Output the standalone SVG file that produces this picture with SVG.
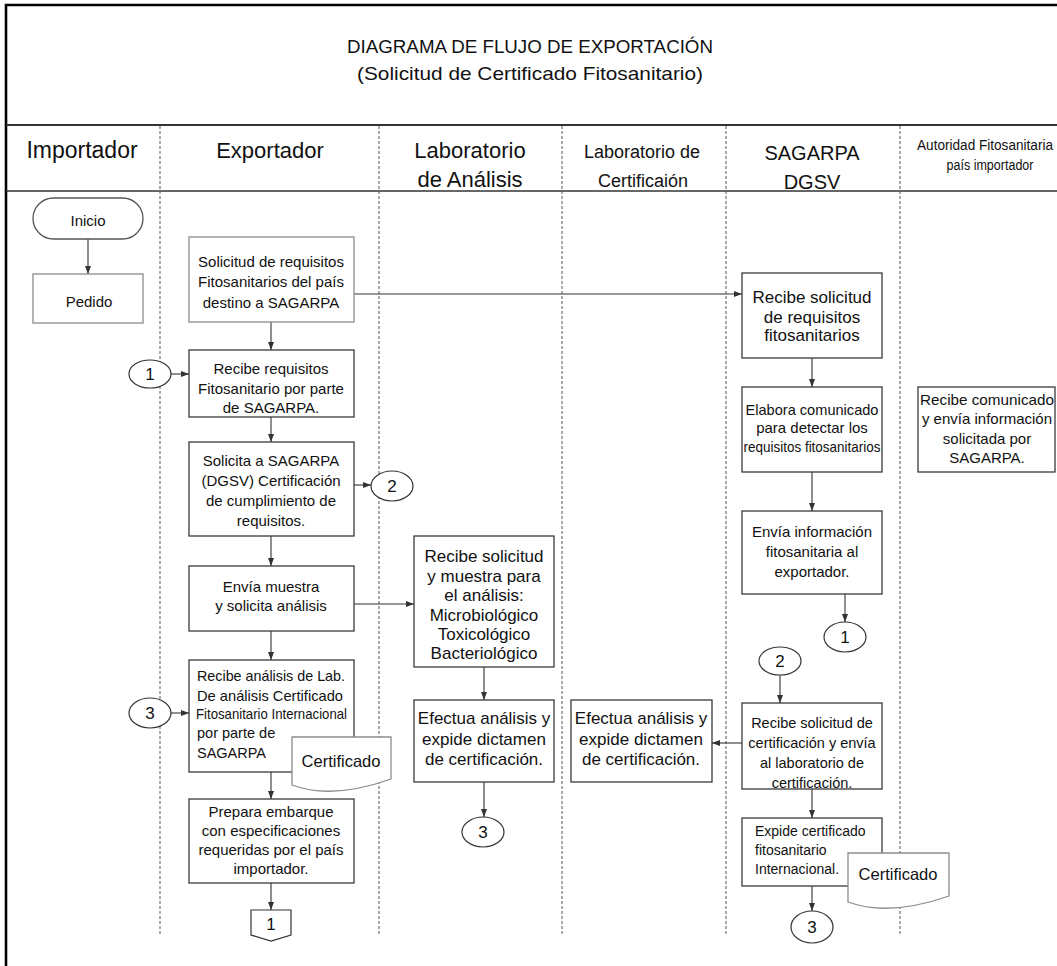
<svg xmlns="http://www.w3.org/2000/svg" width="1057" height="966" viewBox="0 0 1057 966">
<style>
text{font-family:"Liberation Sans",Arial,sans-serif;fill:#111;}
.t15{font-size:15px;text-anchor:middle;}
.t17{font-size:17px;text-anchor:middle;}
.t14{font-size:14px;text-anchor:middle;}
.hd{font-size:22px;text-anchor:middle;}
.box{fill:#fff;stroke:#3a3a3a;stroke-width:1.3;}
.gbox{fill:#fff;stroke:#8c8c8c;stroke-width:1.3;}
.lane{stroke:#555;stroke-width:1;stroke-dasharray:3 2;fill:none;}
.conn{stroke:#333;stroke-width:1.1;fill:none;marker-end:url(#arr);}
.circ{fill:#fff;stroke:#333;stroke-width:1.2;}
.num{font-size:17px;text-anchor:middle;}
</style>
<defs>
<marker id="arr" viewBox="0 0 8 6" refX="8" refY="3" markerWidth="8" markerHeight="6" markerUnits="userSpaceOnUse" orient="auto">
<path d="M0,0 L8,3 L0,6 z" fill="#333"/>
</marker>
</defs>
<rect x="0" y="0" width="1057" height="966" fill="#fff"/>
<g id="frame">
<path d="M6,966 V5 H1057" fill="none" stroke="#000" stroke-width="2.6"/>
<line x1="6" y1="125" x2="1057" y2="125" stroke="#333" stroke-width="2"/>
<line x1="6" y1="191" x2="1057" y2="191" stroke="#333" stroke-width="1.6"/>
<line class="lane" x1="160" y1="126" x2="160" y2="935"/>
<line class="lane" x1="379" y1="126" x2="379" y2="935"/>
<line class="lane" x1="562" y1="126" x2="562" y2="935"/>
<line class="lane" x1="726" y1="126" x2="726" y2="935"/>
<line class="lane" x1="900" y1="126" x2="900" y2="935"/>
</g>
<g id="title">
<text x="530" y="53" style="font-size:19px;text-anchor:middle" textLength="366" lengthAdjust="spacingAndGlyphs">DIAGRAMA DE FLUJO DE EXPORTACIÓN</text>
<text x="530" y="80" style="font-size:19px;text-anchor:middle" textLength="346" lengthAdjust="spacingAndGlyphs">(Solicitud de Certificado Fitosanitario)</text>
</g>
<g id="lane-headers">
<text class="hd" x="82" y="158" style="font-size:23px">Importador</text>
<text class="hd" x="270" y="158">Exportador</text>
<text class="hd" x="470" y="158">Laboratorio</text>
<text class="hd" x="470" y="187">de Análisis</text>
<text class="hd" x="642" y="158" style="font-size:18px">Laboratorio de</text>
<text class="hd" x="643" y="187" style="font-size:18px">Certificaión</text>
<text class="hd" x="812" y="160" style="font-size:20px">SAGARPA</text>
<text class="hd" x="812" y="189" style="font-size:20px">DGSV</text>
<text class="hd" x="985" y="150" style="font-size:14px" textLength="136" lengthAdjust="spacingAndGlyphs">Autoridad Fitosanitaria</text>
<text class="hd" x="990" y="170" style="font-size:14px" textLength="87" lengthAdjust="spacingAndGlyphs">país importador</text>
</g>
<g id="connectors">
<line class="conn" x1="88" y1="239" x2="88" y2="274"/>
<line class="conn" x1="271" y1="322" x2="271" y2="350"/>
<line class="conn" x1="354" y1="294" x2="742" y2="294"/>
<line class="conn" x1="171" y1="374" x2="189" y2="374"/>
<line class="conn" x1="271" y1="417" x2="271" y2="442"/>
<line class="conn" x1="354" y1="485" x2="371" y2="485"/>
<line class="conn" x1="271" y1="536" x2="271" y2="566"/>
<line class="conn" x1="354" y1="604" x2="414" y2="604"/>
<line class="conn" x1="271" y1="631" x2="271" y2="660"/>
<line class="conn" x1="171" y1="713" x2="189" y2="713"/>
<line class="conn" x1="271" y1="772" x2="271" y2="799"/>
<line class="conn" x1="271" y1="883" x2="271" y2="910"/>
<line class="conn" x1="484" y1="667" x2="484" y2="700"/>
<line class="conn" x1="484" y1="782" x2="484" y2="817"/>
<line class="conn" x1="812" y1="358" x2="812" y2="387"/>
<line class="conn" x1="812" y1="472" x2="812" y2="511"/>
<line class="conn" x1="845" y1="594" x2="845" y2="622"/>
<line class="conn" x1="780" y1="675" x2="780" y2="703"/>
<line class="conn" x1="742" y1="743" x2="712" y2="743"/>
<line class="conn" x1="812" y1="789" x2="812" y2="818"/>
<line class="conn" x1="812" y1="886" x2="812" y2="911"/>
</g>
<g id="inicio">
<rect class="box" x="33" y="198" width="110" height="41" rx="20.5" style="stroke:#555"/>
<text class="t15" x="88" y="226">Inicio</text>
</g>
<g id="pedido">
<rect class="gbox" x="33" y="274" width="110" height="49"/>
<text class="t15" x="89" y="307">Pedido</text>
</g>
<g id="solicitud-requisitos">
<rect class="gbox" x="189" y="237" width="165" height="85"/>
<text class="t15" x="271" y="267">Solicitud de requisitos</text>
<text class="t15" x="271" y="287">Fitosanitarios del país</text>
<text class="t15" x="271" y="308">destino a SAGARPA</text>
</g>
<g id="conector-1-izq">
<ellipse class="circ" cx="150" cy="374" rx="21" ry="14"/>
<text class="num" x="150" y="380">1</text>
</g>
<g id="recibe-requisitos">
<rect class="box" x="189" y="350" width="165" height="67"/>
<text class="t15" x="271" y="374">Recibe requisitos</text>
<text class="t15" x="271" y="394">Fitosanitario por parte</text>
<text class="t15" x="271" y="413">de SAGARPA.</text>
</g>
<g id="solicita-certificacion">
<rect class="box" x="189" y="442" width="165" height="94"/>
<text class="t15" x="271" y="466">Solicita a SAGARPA</text>
<text class="t15" x="271" y="486">(DGSV) Certificación</text>
<text class="t15" x="271" y="506">de cumplimiento de</text>
<text class="t15" x="271" y="526">requisitos.</text>
</g>
<g id="conector-2-izq">
<ellipse class="circ" cx="392" cy="486" rx="21" ry="15"/>
<text class="num" x="392" y="492">2</text>
</g>
<g id="envia-muestra">
<rect class="box" x="189" y="566" width="165" height="65"/>
<text class="t15" x="271" y="592">Envía muestra</text>
<text class="t15" x="271" y="611">y solicita análisis</text>
</g>
<g id="conector-3-izq">
<ellipse class="circ" cx="150" cy="713" rx="21" ry="15"/>
<text class="num" x="150" y="719">3</text>
</g>
<g id="recibe-analisis">
<rect class="box" x="189" y="660" width="165" height="112"/>
<text x="197" y="681" style="font-size:14.5px" textLength="148" lengthAdjust="spacingAndGlyphs">Recibe análisis de Lab.</text>
<text x="197" y="701" style="font-size:14.5px" textLength="146" lengthAdjust="spacingAndGlyphs">De análisis Certificado</text>
<text x="196" y="719" style="font-size:14.5px" textLength="151" lengthAdjust="spacingAndGlyphs">Fitosanitario Internacional</text>
<text x="197" y="738" style="font-size:14.5px">por parte de</text>
<text x="197" y="758" style="font-size:14.5px">SAGARPA</text>
</g>
<g id="certificado-izq">
<path class="gbox" d="M292,737 H391 V779 Q332,800 292,785 Z"/>
<text x="341" y="767" style="font-size:16.5px;text-anchor:middle">Certificado</text>
</g>
<g id="prepara-embarque">
<rect class="box" x="189" y="799" width="165" height="84"/>
<text class="t15" x="271" y="817">Prepara embarque</text>
<text class="t15" x="271" y="836">con especificaciones</text>
<text class="t15" x="271" y="855">requeridas por el país</text>
<text class="t15" x="271" y="874">importador.</text>
</g>
<g id="conector-pagina-1">
<path class="circ" d="M251,910 H291 V935 L271,941 L251,935 Z"/>
<text class="num" x="271" y="930">1</text>
</g>
<g id="lab-recibe-solicitud">
<rect class="box" x="414" y="536" width="140" height="131"/>
<text class="t17" x="484" y="562">Recibe solicitud</text>
<text class="t17" x="484" y="582">y muestra para</text>
<text class="t17" x="484" y="601">el análisis:</text>
<text class="t17" x="484" y="621">Microbiológico</text>
<text class="t17" x="484" y="640">Toxicológico</text>
<text class="t17" x="484" y="659">Bacteriológico</text>
</g>
<g id="lab-efectua">
<rect class="box" x="414" y="700" width="140" height="82"/>
<text class="t17" x="484" y="724">Efectua análisis y</text>
<text class="t17" x="484" y="745">expide dictamen</text>
<text class="t17" x="484" y="765">de certificación.</text>
</g>
<g id="conector-3-lab">
<ellipse class="circ" cx="483" cy="832" rx="21" ry="15"/>
<text class="num" x="483" y="838">3</text>
</g>
<g id="cert-efectua">
<rect class="box" x="571" y="700" width="141" height="82"/>
<text class="t17" x="641" y="724">Efectua análisis y</text>
<text class="t17" x="641" y="745">expide dictamen</text>
<text class="t17" x="641" y="765">de certificación.</text>
</g>
<g id="sagarpa-recibe-solicitud">
<rect class="box" x="742" y="273" width="140" height="85"/>
<text class="t17" x="812" y="303">Recibe solicitud</text>
<text class="t17" x="812" y="323">de requisitos</text>
<text class="t17" x="812" y="341">fitosanitarios</text>
</g>
<g id="sagarpa-elabora">
<rect class="box" x="742" y="387" width="140" height="85"/>
<text class="t15" x="812" y="415" textLength="133" lengthAdjust="spacingAndGlyphs">Elabora comunicado</text>
<text class="t15" x="812" y="433">para detectar los</text>
<text class="t15" x="812" y="452" textLength="137" lengthAdjust="spacingAndGlyphs">requisitos fitosanitarios</text>
</g>
<g id="autoridad-recibe">
<rect class="box" x="918" y="387" width="137" height="85"/>
<text class="t15" x="987" y="405" textLength="134" lengthAdjust="spacingAndGlyphs">Recibe comunicado</text>
<text class="t15" x="987" y="424">y envía información</text>
<text class="t15" x="987" y="444">solicitada por</text>
<text class="t15" x="987" y="463">SAGARPA.</text>
</g>
<g id="sagarpa-envia-informacion">
<rect class="box" x="742" y="511" width="140" height="83"/>
<text class="t15" x="812" y="537">Envía información</text>
<text class="t15" x="812" y="557">fitosanitaria al</text>
<text class="t15" x="812" y="577">exportador.</text>
</g>
<g id="conector-1-der">
<ellipse class="circ" cx="845" cy="637" rx="21" ry="15"/>
<text class="num" x="845" y="643">1</text>
</g>
<g id="conector-2-der">
<ellipse class="circ" cx="780" cy="661" rx="21" ry="14"/>
<text class="num" x="780" y="667">2</text>
</g>
<g id="sagarpa-recibe-certificacion">
<rect class="box" x="742" y="703" width="140" height="86"/>
<text class="t15" x="812" y="728" style="font-size:14.5px">Recibe solicitud de</text>
<text class="t15" x="812" y="748" style="font-size:14.5px">certificación y envía</text>
<text class="t15" x="812" y="768" style="font-size:14.5px">al laboratorio de</text>
<text class="t15" x="812" y="788" style="font-size:14.5px">certificación.</text>
</g>
<g id="sagarpa-expide">
<rect class="box" x="742" y="818" width="140" height="68"/>
<text x="755" y="836" style="font-size:14px">Expide certificado</text>
<text x="755" y="855" style="font-size:14px">fitosanitario</text>
<text x="755" y="874" style="font-size:14px">Internacional.</text>
</g>
<g id="certificado-der">
<path class="gbox" d="M848,853 H949 V896 Q889,917 848,902 Z"/>
<text x="898" y="880" style="font-size:16.5px;text-anchor:middle">Certificado</text>
</g>
<g id="conector-3-der">
<ellipse class="circ" cx="812" cy="927" rx="21" ry="16"/>
<text class="num" x="812" y="933">3</text>
</g>
</svg>
